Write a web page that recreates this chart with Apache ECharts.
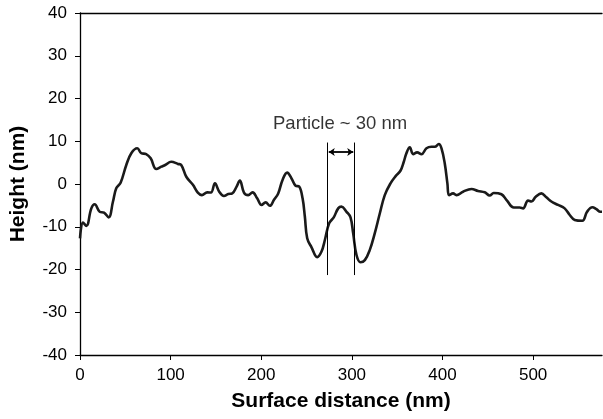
<!DOCTYPE html>
<html>
<head>
<meta charset="utf-8">
<script src="https://cdn.jsdelivr.net/npm/echarts@6/dist/echarts.min.js"></script>
<style>html,body{margin:0;padding:0;background:#fff}#c{width:603px;height:419px}</style>
</head>
<body>
<div id="c"></div>
<script>
// Surface distance (nm)
var distance = [0, 3.3, 7, 12.5, 16.2, 21.7, 26.5, 31.6, 36.4, 40, 44.8, 51, 56.6, 63.2, 67.6, 73, 78, 84.2, 89.7, 94, 100.7, 108, 111.7, 117.3, 124.6, 130, 134.5, 140.4, 144.5, 148.9, 153.6, 158.8, 163.6, 168, 172.8, 176.4, 180.9, 185.6, 190.4, 195.5, 200.3, 204.8, 209.5, 213.9, 218.7, 223.5, 228.6, 233.4, 237.9, 241.8, 245.6, 248.1, 250.7, 255.5, 261.7, 266.5, 270.2, 274.9, 280, 284.9, 288.5, 294.1, 298.5, 301.4, 305.1, 309.5, 314.3, 319.8, 325.3, 330.8, 336.3, 342.6, 348.5, 353.6, 357.3, 360.2, 363.9, 367.6, 372, 376.8, 382.3, 387.8, 391.5, 395.9, 398.9, 402.5, 405.4, 407.3, 411.7, 415.4, 422.7, 432, 439.2, 446.6, 452.1, 456.5, 465, 471.2, 478.6, 485.2, 488.9, 494.4, 498.1, 502.9, 509.1, 514.6, 520.1, 527.5, 534.8, 540.4, 545.9, 554.3, 559.5, 565.4, 569.8, 574.2, 576];
// Height (nm)
var height = [-12.7, -9.0, -9.8, -5.7, -4.75, -6.5, -6.7, -7.8, -4.1, -1.0, 0.3, 4.4, 7.2, 8.35, 7.2, 7.0, 6.0, 3.5, 4.05, 4.45, 5.2, 4.7, 4.45, 1.7, -0.2, -2.0, -2.6, -1.95, -2.0, 0.15, -1.8, -2.8, -2.35, -2.2, -0.6, 0.8, -2.0, -2.6, -1.95, -3.35, -4.9, -4.3, -5.1, -3.75, -2.2, 0.95, 2.65, 1.3, -0.4, -0.6, -3.35, -7.6, -12.7, -14.8, -17.1, -15.8, -13.1, -9.2, -7.8, -5.7, -5.3, -6.5, -7.8, -11.5, -16.6, -18.3, -17.8, -15.4, -11.5, -6.9, -2.6, 0.15, 1.9, 3.1, 5.2, 7.2, 8.6, 7.0, 7.4, 6.95, 8.35, 8.7, 8.7, 9.35, 8.35, 4.8, 0.15, -2.6, -2.2, -2.6, -1.8, -1.17, -1.64, -1.95, -2.7, -2.1, -2.4, -3.9, -5.5, -5.5, -5.7, -3.9, -4.1, -3.0, -2.2, -3.1, -4.1, -4.9, -5.7, -7.25, -8.4, -8.6, -6.5, -5.45, -5.9, -6.5, -6.5];
// Annotation
var annotationText = 'Particle ~ 30 nm';
var annotationPos = [287, 14];
var particleEdges = [273, 303];
var particleLine = [-21.3, 9.7];
var arrowY = 7.5;
var arrowEnds = [274.5, 301.5];

var lineData = distance.map(function (d, i) { return [d, height[i]]; });
var font = 'Liberation Sans, Arial, sans-serif';

var chart = echarts.init(document.getElementById('c'), null, {renderer: 'canvas'});
chart.setOption({
  animation: false,
  backgroundColor: '#fff',
  grid: {left: 80, right: 1, top: 13, bottom: 64},
  xAxis: [{
    type: 'value', min: 0, max: 576, interval: 100,
    name: 'Surface distance (nm)', nameLocation: 'middle', nameGap: 36,
    nameTextStyle: {fontFamily: font, fontSize: 21, fontWeight: 'bold', color: '#000'},
    axisLine: {show: true, onZero: false, lineStyle: {color: '#000', width: 1.3}},
    axisTick: {show: true, length: 5, inside: false, lineStyle: {color: '#000'}},
    axisLabel: {fontFamily: font, fontSize: 17, color: '#000', margin: 12, showMaxLabel: false},
    splitLine: {show: false}
  }, {
    type: 'value', min: 0, max: 576, position: 'top',
    axisLine: {show: true, onZero: false, lineStyle: {color: '#000', width: 1.3}},
    axisTick: {show: false}, axisLabel: {show: false}, splitLine: {show: false}
  }],
  yAxis: {
    type: 'value', min: -40, max: 40, interval: 10,
    name: 'Height (nm)', nameLocation: 'middle', nameGap: 51,
    nameTextStyle: {fontFamily: font, fontSize: 21, fontWeight: 'bold', color: '#000'},
    axisLine: {show: true, onZero: false, lineStyle: {color: '#000', width: 1.3}},
    axisTick: {show: true, length: 5, lineStyle: {color: '#000'}},
    axisLabel: {fontFamily: font, fontSize: 17, color: '#000', margin: 13},
    splitLine: {show: false}
  },
  series: [{
    type: 'line',
    data: lineData,
    smooth: 0.4,
    symbol: 'none',
    lineStyle: {color: '#1a1a1a', width: 2.6},
    markLine: {
      silent: true,
      symbol: 'none',
      label: {show: false},
      lineStyle: {color: '#000', width: 1, type: 'solid'},
      data: [
        [{coord: [particleEdges[0], particleLine[0]]}, {coord: [particleEdges[0], particleLine[1]]}],
        [{coord: [particleEdges[1], particleLine[0]]}, {coord: [particleEdges[1], particleLine[1]]}],
        [{coord: [arrowEnds[0], arrowY], symbol: 'arrow', symbolSize: [6, 6], lineStyle: {width: 1.8}},
         {coord: [arrowEnds[1], arrowY], symbol: 'arrow', symbolSize: [6, 6]}]
      ]
    }
  }, {
    type: 'scatter',
    data: [annotationPos],
    symbolSize: 0,
    silent: true,
    label: {show: true, position: 'inside', formatter: annotationText, fontFamily: font, fontSize: 18.5, color: '#000'}
  }]
});
</script>
</body>
</html>
